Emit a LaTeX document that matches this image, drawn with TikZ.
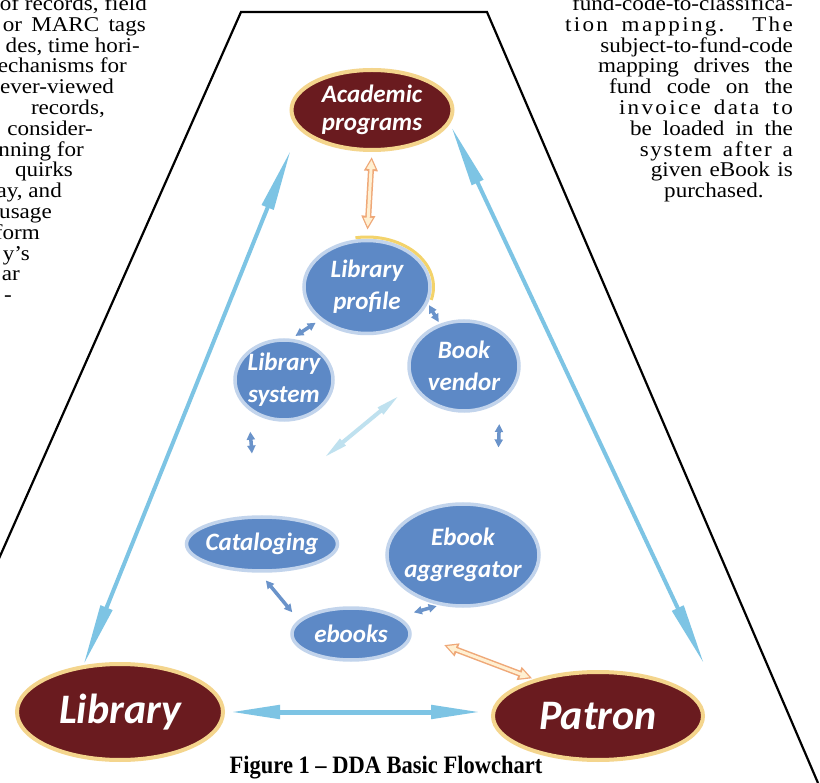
\documentclass[tikz,border=0pt]{standalone}
\usepackage{fontspec}
\setmainfont{Liberation Serif}
\newfontfamily\bubblefont{Carlito}
\usetikzlibrary{shapes.geometric,arrows.meta,calc}

\definecolor{wine}{HTML}{6A1B1F}
\definecolor{cream}{HTML}{F4D58D}
\definecolor{bubblefill}{HTML}{5D89C6}
\definecolor{bubblerim}{HTML}{C2D4EC}
\definecolor{sky}{HTML}{7DC4E4}
\definecolor{mist}{HTML}{BFE1EF}
\definecolor{steel}{HTML}{6A93CA}
\definecolor{peach}{HTML}{EFA878}
\definecolor{shell}{HTML}{FFF0D2}
\definecolor{gold}{HTML}{F3D36B}

\newcommand{\pageline}[1]{\scalebox{1.1}[1]{#1}}

\tikzset{
  party/.style={ellipse, fill=wine, draw=cream, line width=4pt, text=white, align=center, inner sep=-6pt},
  bubble/.style={ellipse, fill=bubblefill, draw=bubblerim, line width=3.5pt, text=white, align=center, inner sep=-6pt,
    font=\bubblefont\bfseries\itshape\fontsize{25}{32}\selectfont},
  longlink/.style={draw=sky, line width=4pt, {Triangle[length=62pt,width=12pt]}-{Triangle[length=62pt,width=12pt]}},
  flatlink/.style={draw=sky, line width=5pt, {Triangle[length=50pt,width=13pt]}-{Triangle[length=50pt,width=13pt]}},
  link/.style={draw=steel, line width=3.5pt, {Triangle[length=8pt,width=8pt]}-{Triangle[length=8pt,width=8pt]}},
  mistlink/.style={draw=mist, line width=4pt, {Triangle[length=25pt,width=8pt]}-{Triangle[length=25pt,width=8pt]}},
  hollowout/.style={draw=peach, line width=6pt, {Triangle[length=14pt,width=13pt]}-{Triangle[length=14pt,width=13pt]}},
  hollowin/.style={draw=shell, line width=3pt, {Triangle[length=9pt,width=8.5pt]}-{Triangle[length=9pt,width=8.5pt]}},
  pagetext/.style={anchor=base east, inner sep=0pt, font=\fontsize{21}{24}\selectfont},
}

\begin{document}
\begin{tikzpicture}[x=1pt,y=-1pt]
    \useasboundingbox (0,0) rectangle (820,783);
    \fill[white] (0,0) rectangle (820,783);

    % text of the page around the figure
    \node[pagetext] (l1) at (147,10.5) {\pageline{y of records, field}};
    \node[pagetext] (l2) at (146,31.3) {\pageline{\makebox[130pt][s]{or MARC tags}}};
    \node[pagetext] (l3) at (140,52.1) {\pageline{des, time hori-}};
    \node[pagetext] (l4) at (127,72.9) {\pageline{echanisms for}};
    \node[pagetext] (l5) at (114,93.7) {\pageline{ever-viewed}};
    \node[pagetext] (l6) at (105,114.5) {\pageline{records,}};
    \node[pagetext] (l7) at (93,135.3) {\pageline{consider-}};
    \node[pagetext] (l8) at (84,156.1) {\pageline{nning for}};
    \node[pagetext] (l9) at (73,176.9) {\pageline{quirks}};
    \node[pagetext] (l10) at (62,197.7) {\pageline{ay, and}};
    \node[pagetext] (l11) at (52,218.5) {\pageline{usage}};
    \node[pagetext] (l12) at (40,239.3) {\pageline{form}};
    \node[pagetext] (l13) at (30,260.1) {\pageline{y’s}};
    \node[pagetext] (l14) at (20,280.9) {\pageline{ar}};
    \node[pagetext] (l15) at (12,301.7) {\pageline{-}};

    \node[pagetext] (r1) at (793,10.5) {\pageline{fund-code-to-classifica-}};
    \node[pagetext] (r2) at (793,31.3) {\pageline{\makebox[207pt][s]{\addfontfeatures{LetterSpace=10}tion mapping. The}}};
    \node[pagetext] (r3) at (793,52.1) {\pageline{subject-to-fund-code}};
    \node[pagetext] (r4) at (793,72.9) {\pageline{\makebox[177pt][s]{mapping drives the}}};
    \node[pagetext] (r5) at (793,93.7) {\pageline{\makebox[167pt][s]{fund code on the}}};
    \node[pagetext] (r6) at (793,114.5) {\pageline{\makebox[158pt][s]{\addfontfeatures{LetterSpace=10}invoice data to}}};
    \node[pagetext] (r7) at (793,135.3) {\pageline{\makebox[148pt][s]{be loaded in the}}};
    \node[pagetext] (r8) at (793,156.1) {\pageline{\makebox[139pt][s]{\addfontfeatures{LetterSpace=7}system after a}}};
    \node[pagetext] (r9) at (793,176.9) {\pageline{\makebox[129pt][s]{given eBook is}}};
    \node[pagetext, anchor=base west] (r10) at (664,197.7) {\pageline{purchased.}};

    % frame of the figure
    \draw[line width=2.2pt] (-3,563) -- (241,12) -- (487,12) -- (818,783);

    % nodes
    \node[party, minimum width=161pt, minimum height=80pt,
      font=\bubblefont\bfseries\itshape\fontsize{25}{28}\selectfont] (acad) at (372,110) {Academic\\programs};
    \node[bubble, minimum width=126pt, minimum height=93pt] (profile) at (367,287) {Library\\profile};
    \draw[gold, line width=3pt] ($(profile.center)+(-100:66.5 and 50)$) arc[start angle=-100, end angle=15, x radius=66.5, y radius=50];
    \node[bubble, minimum width=98pt, minimum height=80pt] (system) at (284,380) {Library\\system};
    \node[bubble, minimum width=110pt, minimum height=90pt] (vendor) at (464,366) {Book\\vendor};
    \node[bubble, minimum width=151pt, minimum height=54pt] (catalog) at (262,544) {Cataloging};
    \node[bubble, minimum width=152pt, minimum height=102pt] (aggreg) at (463,555) {Ebook\\aggregator};
    \node[bubble, minimum width=118pt, minimum height=52pt] (ebooks) at (351,634) {ebooks};
    \node[party, minimum width=206pt, minimum height=96pt,
      font=\bubblefont\bfseries\itshape\fontsize{42}{42}\selectfont] (library) at (120,712) {Library};
    \node[party, minimum width=210pt, minimum height=88pt,
      font=\bubblefont\bfseries\itshape\fontsize{42}{42}\selectfont] (patron) at (598,716) {Patron};
    \coordinate (handoff) at (444,645);

    % connectors
    \draw[longlink, shorten >=22pt] (library.128) -- (acad.195);
    \draw[longlink, shorten <=3pt, shorten >=2pt] (acad.350) -- ($(patron.east)+(0,-50)$);
    \draw[flatlink, shorten <=5pt, shorten >=10pt] (library.east) -- (library.east -| patron.west);
    \draw[hollowout, shorten <=5pt, shorten >=9pt] (acad.south) -- (profile.north);
    \draw[hollowin, shorten <=8pt, shorten >=12pt] (acad.south) -- (profile.north);
    \draw[hollowout, shorten >=2pt] (handoff) -- (patron.150);
    \draw[hollowin, shorten <=3pt, shorten >=5pt] (handoff) -- (patron.150);
    \draw[link, shorten <=5pt, shorten >=5pt] (profile.215) -- (system.80);
    \draw[link, shorten <=2pt, shorten >=2pt] (profile.345) -- (vendor.120);
    \draw[link, shorten <=22pt, shorten >=62pt] (system.220) -- (catalog.100);
    \draw[mistlink, shorten <=16pt, shorten >=90pt] (vendor.200) -- (catalog.105);
    \draw[link, shorten <=22pt, shorten >=60pt] (vendor.315) -- (aggreg.55);
    \draw[link, shorten <=10pt, shorten >=10pt] (catalog.265) -- (ebooks.165);
    \draw[link, shorten <=16pt, shorten >=3pt] (ebooks.20) -- (aggreg.245);

    % caption
    \node[anchor=base, inner sep=0pt] (caption) at (386,773)
      {\scalebox{0.9}[1]{\fontsize{25}{25}\selectfont\bfseries Figure 1 – DDA Basic Flowchart}};
\end{tikzpicture}
\end{document}
